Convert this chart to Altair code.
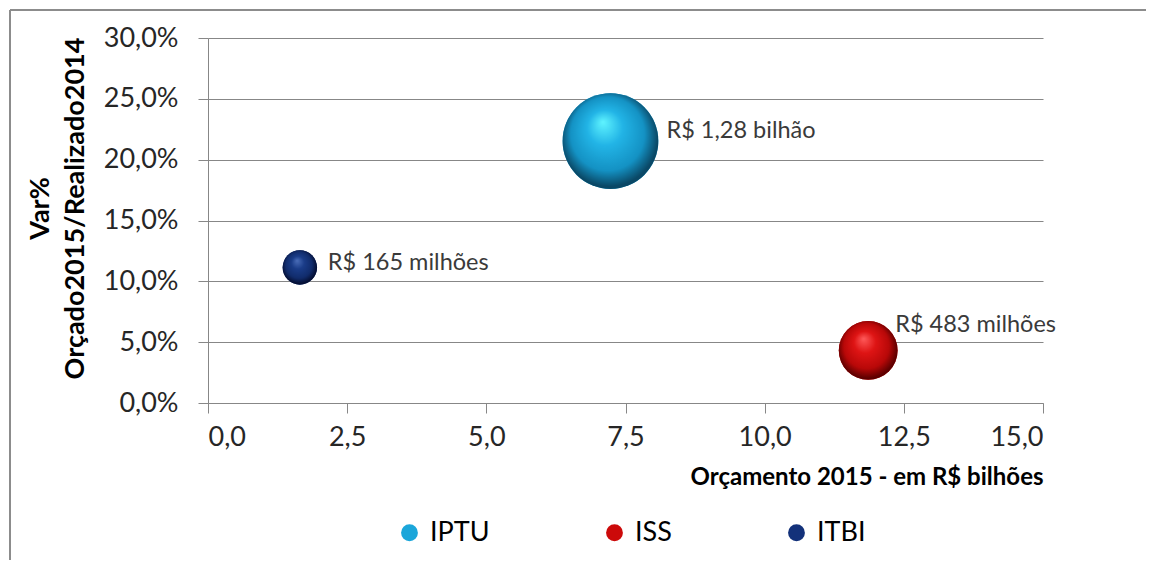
import altair as alt
import pandas as pd

# ---- data ----
tributos = ["IPTU", "ISS", "ITBI"]
orcamento_2015 = [7.23, 11.86, 1.65]          # R$ bilhões (x)
var_pct = [0.2153, 0.0432, 0.1114]            # Var% Orçado2015/Realizado2014 (y)
arrecadacao_mi = [1280, 483, 165]             # bubble size (R$ milhões)
rotulos = ["R$ 1,28 bilhão", "R$ 483 milhões", "R$ 165 milhões"]
x_ticks = [0, 2.5, 5, 7.5, 10, 12.5, 15]
y_ticks = [0, 0.05, 0.10, 0.15, 0.20, 0.25, 0.30]

df = pd.DataFrame({
    "tributo": tributos,
    "x": orcamento_2015,
    "y": var_pct,
    "size": arrecadacao_mi,
    "rotulo": rotulos,
})

FONT = "Lato"
solid = {"IPTU": "#1BA6DA", "ISS": "#CC0A0A", "ITBI": "#13317A"}
grad_colors = {
    "IPTU": ["#5FF4FF", "#22B4E6", "#1492C4", "#0A4866"],
    "ISS": ["#FF5A5A", "#DE1414", "#B80808", "#5E0000"],
    "ITBI": ["#4A6DB8", "#1A3C88", "#112C6C", "#050F33"],
}
label_offsets = {"IPTU": (56, -10), "ISS": (27, -25), "ITBI": (28, -4)}

x_enc = alt.X("x:Q", scale=alt.Scale(domain=[0, 15], nice=False),
              axis=alt.Axis(values=x_ticks, title="Orçamento 2015 - em R$ bilhões",
                            labelExpr="replace(format(datum.value, '.1f'), '.', ',')",
                            grid=False, tickSize=10, labelPadding=11,
                            titleAnchor="end", titleAlign="right", titlePadding=15,
                            titleFontSize=24))
y_enc = alt.Y("y:Q", scale=alt.Scale(domain=[0, 0.30], nice=False),
              axis=alt.Axis(values=y_ticks, title=["Var%", "Orçado2015/Realizado2014"],
                            labelExpr="replace(format(datum.value * 100, '.1f'), '.', ',') + '%'",
                            grid=True, tickSize=10, labelPadding=20, titlePadding=14,
                            titleLineHeight=35, titleFontSize=27, titleY=170))
size_enc = alt.Size("size:Q", scale=alt.Scale(domain=[0, 1280], range=[0, 9160], zero=True),
                    legend=None)

base = alt.Chart(df)

under = base.mark_circle(opacity=1).encode(
    x=x_enc, y=y_enc, size=size_enc,
    color=alt.Color("tributo:N",
                    scale=alt.Scale(domain=tributos, range=[solid[t] for t in tributos]),
                    legend=alt.Legend(title=None, orient="none", direction="horizontal",
                                      legendX=188, legendY=481, symbolType="circle",
                                      symbolSize=283, labelFontSize=27, labelFont=FONT,
                                      labelColor="#000000", columnPadding=111,
                                      symbolOffset=0, labelOffset=7)),
)

layers = [under]
for t in tributos:
    c = grad_colors[t]
    fill = {
        "gradient": "radial",
        "x1": 0.42, "y1": 0.3, "r1": 0.0,
        "x2": 0.5, "y2": 0.5, "r2": 0.62,
        "stops": [
            {"offset": 0.0, "color": c[0]},
            {"offset": 0.3, "color": c[1]},
            {"offset": 0.62, "color": c[2]},
            {"offset": 0.82, "color": c[3]},
            {"offset": 1.0, "color": c[3]},
        ],
    }
    layers.append(
        base.transform_filter(alt.datum.tributo == t)
        .mark_circle(opacity=1, fill=fill)
        .encode(x="x:Q", y="y:Q", size=size_enc)
    )
    dx, dy = label_offsets[t]
    layers.append(
        base.transform_filter(alt.datum.tributo == t)
        .mark_text(align="left", baseline="middle", dx=dx, dy=dy,
                   font=FONT, fontSize=23.5, color="#3a3a3a")
        .encode(x="x:Q", y="y:Q", text="rotulo:N")
    )

# outer frame (top and left edges of the chart box)
frame_top = alt.Chart(df).mark_rule(color="#8c8c8c", strokeWidth=2).encode(
    x=alt.value(-198), x2=alt.value(940), y=alt.value(-28))
frame_left = alt.Chart(df).mark_rule(color="#8c8c8c", strokeWidth=2).encode(
    x=alt.value(-198), y=alt.value(-28), y2=alt.value(530))

chart = alt.layer(frame_top, frame_left, *layers).properties(
    width=835, height=365,
    padding={"left": 200, "top": 30, "right": 103, "bottom": 157},
    autosize=alt.AutoSizeParams(type="none"),
).configure_view(stroke=None).configure_axis(
    labelFont=FONT, labelFontSize=27, labelColor="#262626",
    titleFont=FONT, titleFontWeight="bold", titleColor="#000000",
    domainColor="#878787", gridColor="#878787", tickColor="#878787",
    domainWidth=1, gridWidth=1, tickWidth=1,
)

chart.save("out.html", embed_options={"renderer": "svg", "actions": False})
